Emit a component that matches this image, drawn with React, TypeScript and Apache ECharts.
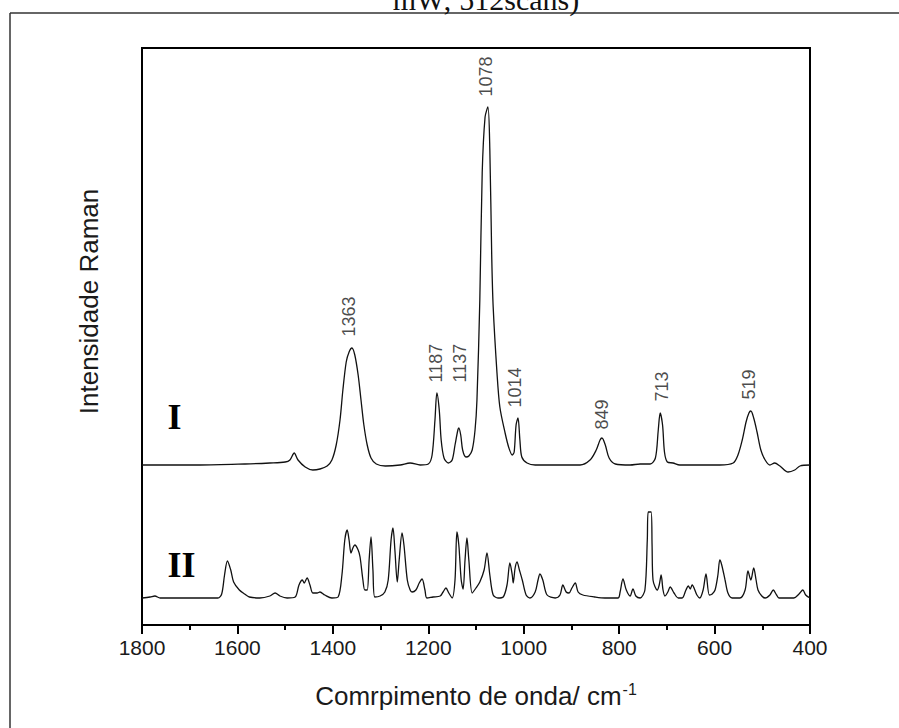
import React, { useEffect, useRef } from "react";
import * as echarts from "echarts";

// Spectrum I (upper trace): [wavenumber cm-1, intensity a.u.]
const spectrumI: [number, number][] = [
  [1800, 160], [1678, 160], [1584, 161], [1532, 162], [1500, 163], [1490, 165], [1481, 172], [1473, 165],
  [1458, 158], [1442, 155], [1427, 156], [1412, 159], [1402, 165], [1393, 180], [1385, 205], [1379, 235],
  [1372, 263], [1366, 273], [1360, 277], [1354, 270], [1347, 250], [1341, 225], [1335, 200], [1328, 180],
  [1320, 167], [1309, 161], [1290, 159], [1259, 160], [1238, 162], [1217, 160], [1200, 161], [1192, 170],
  [1186, 205], [1182, 232], [1177, 215], [1173, 185], [1167, 167], [1158, 162], [1150, 165], [1144, 180],
  [1138, 195], [1136, 197], [1132, 190], [1128, 175], [1121, 168], [1115, 169], [1108, 175], [1102, 195],
  [1098, 225], [1092, 325], [1087, 452], [1081, 508], [1075, 518], [1071, 475], [1067, 368], [1064, 318],
  [1056, 252], [1050, 218], [1039, 192], [1031, 177], [1024, 170], [1020, 173], [1016, 200], [1012, 207],
  [1008, 185], [1004, 168], [993, 162], [976, 160], [924, 160], [882, 160], [861, 165], [848, 175],
  [840, 185], [836, 187], [829, 180], [821, 167], [808, 161], [777, 160], [756, 161], [735, 161],
  [724, 167], [718, 195], [714, 212], [709, 200], [705, 173], [699, 163], [687, 162], [673, 160],
  [631, 160], [589, 160], [561, 162], [551, 170], [542, 185], [534, 203], [528, 212], [524, 214],
  [518, 207], [511, 193], [503, 175], [494, 165], [484, 160], [474, 162], [463, 159], [446, 153],
  [432, 155], [421, 159], [400, 160],
];

// Spectrum II (lower trace)
const spectrumII: [number, number][] = [
  [1800, 27], [1783, 28], [1773, 29], [1762, 27], [1700, 27], [1641, 27], [1633, 31], [1627, 50],
  [1621, 64], [1614, 55], [1608, 43], [1596, 35], [1585, 31], [1575, 28], [1553, 27], [1532, 29],
  [1521, 32], [1511, 29], [1496, 27], [1479, 28], [1471, 40], [1464, 45], [1460, 42], [1454, 47],
  [1448, 40], [1442, 32], [1433, 32], [1427, 33], [1417, 30], [1402, 27], [1389, 28], [1381, 50],
  [1375, 85], [1370, 95], [1366, 85], [1362, 72], [1358, 77], [1354, 80], [1347, 75], [1343, 68],
  [1337, 45], [1333, 35], [1328, 35], [1324, 65], [1320, 88], [1316, 55], [1312, 28], [1301, 29],
  [1291, 33], [1284, 45], [1278, 85], [1274, 97], [1270, 75], [1265, 43], [1261, 65], [1255, 92],
  [1251, 80], [1244, 45], [1238, 35], [1234, 33], [1226, 35], [1219, 42], [1213, 46], [1207, 35],
  [1203, 27], [1190, 28], [1175, 29], [1169, 33], [1163, 37], [1157, 32], [1150, 27], [1144, 45],
  [1140, 93], [1136, 80], [1131, 45], [1127, 36], [1123, 65], [1119, 87], [1115, 65], [1108, 32],
  [1100, 37], [1092, 43], [1083, 55], [1077, 72], [1071, 50], [1064, 30], [1054, 27], [1043, 28],
  [1035, 40], [1029, 62], [1024, 50], [1022, 42], [1018, 57], [1014, 63], [1009, 55], [1003, 45],
  [995, 30], [987, 27], [976, 33], [970, 45], [966, 51], [960, 45], [951, 30], [934, 27],
  [924, 30], [918, 40], [911, 33], [905, 32], [899, 37], [892, 42], [886, 33], [876, 30],
  [851, 28], [830, 27], [802, 27], [798, 33], [792, 46], [785, 35], [777, 29], [771, 36],
  [765, 29], [756, 27], [746, 35], [741, 85], [739, 113], [733, 113], [731, 80], [729, 45],
  [720, 35], [716, 40], [712, 50], [708, 35], [704, 29], [698, 33], [693, 38], [685, 32],
  [676, 27], [668, 27], [660, 35], [655, 39], [651, 36], [647, 40], [637, 30], [631, 27],
  [624, 35], [618, 51], [611, 30], [605, 31], [599, 35], [593, 50], [589, 65], [585, 60],
  [578, 45], [572, 32], [563, 27], [547, 27], [536, 35], [530, 54], [524, 45], [518, 57],
  [513, 45], [509, 35], [501, 29], [494, 27], [484, 30], [477, 35], [470, 30], [465, 27],
  [434, 27], [423, 31], [415, 35], [409, 30], [400, 27],
];

// Peak annotations (text, x position, bottom of the text in intensity units)
const peakLabels = ["1363", "1187", "1137", "1078", "1014", "849", "713", "519"];
const peakLabelX = [1366, 1182, 1133, 1077, 1018, 834, 710, 526];
const peakLabelY = [288, 242, 242, 528, 217, 195, 223, 225];

// Trace identifiers
const traceNames = ["I", "II"];
const traceNameX = [1731, 1716];
const traceNameY = [208, 60];

const xMin = 400;
const xMax = 1800;
const xInterval = 200;
const yMin = 0;
const yMax = 577;

const SANS = "'Liberation Sans', Arial, sans-serif";
const SERIF = "'Liberation Serif', 'Times New Roman', serif";

export default function App() {
  const ref = useRef<HTMLDivElement>(null);

  useEffect(() => {
    if (!ref.current) return;
    const chart = echarts.init(ref.current, undefined, { renderer: "svg" });
    chart.setOption({
      animation: false,
      backgroundColor: "#ffffff",
      graphic: [
        {
          type: "line",
          shape: { x1: 10, y1: 13, x2: 899, y2: 13 },
          style: { stroke: "#333", lineWidth: 1.5 },
        },
        {
          type: "line",
          shape: { x1: 10, y1: 13, x2: 10, y2: 728 },
          style: { stroke: "#333", lineWidth: 1.5 },
        },
        {
          type: "text",
          x: 486,
          y: 14,
          style: {
            text: "mW; 512scans)",
            font: `30px ${SERIF}`,
            fill: "#111",
            align: "center",
            verticalAlign: "bottom",
          },
        },
      ],
      grid: {
        left: 142,
        right: 89,
        top: 48,
        bottom: 103,
        show: true,
        borderColor: "#000",
        borderWidth: 2,
        containLabel: false,
      },
      xAxis: {
        type: "value",
        min: xMin,
        max: xMax,
        interval: xInterval,
        inverse: true,
        name: "{a|Comrpimento de onda/ cm}{b|-1}",
        nameLocation: "middle",
        nameGap: 56,
        nameTextStyle: {
          rich: {
            a: { fontSize: 26, fontFamily: SANS, color: "#1a1a1a", lineHeight: 30 },
            b: { fontSize: 16, fontFamily: SANS, color: "#1a1a1a", verticalAlign: "top", lineHeight: 30, padding: [0, 0, 0, 1] },
          },
        },
        axisLine: { show: true, onZero: false, lineStyle: { color: "#000", width: 2 } },
        axisTick: { show: true, inside: false, length: 9, lineStyle: { color: "#000", width: 2 } },
        minorTick: { show: true, splitNumber: 2, length: 5, lineStyle: { color: "#000", width: 2 } },
        axisLabel: {
          fontSize: 21,
          fontFamily: SANS,
          color: "#1a1a1a",
          margin: 12,
          formatter: (v: number) => String(v),
        },
        splitLine: { show: false },
        minorSplitLine: { show: false },
      },
      yAxis: {
        type: "value",
        min: yMin,
        max: yMax,
        name: "Intensidade Raman",
        nameLocation: "middle",
        nameGap: 40,
        nameTextStyle: { fontSize: 26, fontFamily: SANS, color: "#1a1a1a", padding: [0, 0, 0, 70] },
        axisLine: { show: true, lineStyle: { color: "#000", width: 2 } },
        axisTick: { show: false },
        axisLabel: { show: false },
        splitLine: { show: false },
      },
      series: [
        {
          name: "I",
          type: "line",
          data: spectrumI,
          showSymbol: false,
          symbol: "none",
          smooth: 0.3,
          lineStyle: { color: "#111", width: 1.3 },
        },
        {
          name: "II",
          type: "line",
          data: spectrumII,
          showSymbol: false,
          symbol: "none",
          smooth: 0.3,
          lineStyle: { color: "#111", width: 1.3 },
        },
        {
          name: "peaks",
          type: "scatter",
          data: peakLabels.map((t, i) => [peakLabelX[i], peakLabelY[i], t]),
          symbolSize: 1,
          itemStyle: { color: "rgba(0,0,0,0)" },
          label: {
            show: true,
            position: [0, 0],
            rotate: 90,
            align: "left",
            verticalAlign: "middle",
            fontSize: 18,
            fontFamily: SANS,
            color: "#1a1a1a",
            textBorderWidth: 0,
            textBorderColor: "transparent",
            formatter: (p: any) => p.value[2],
          },
          silent: true,
        },
        {
          name: "traces",
          type: "scatter",
          data: traceNames.map((t, i) => [traceNameX[i], traceNameY[i], t]),
          symbolSize: 1,
          itemStyle: { color: "rgba(0,0,0,0)" },
          label: {
            show: true,
            position: [0, 0],
            align: "center",
            verticalAlign: "middle",
            fontSize: 36,
            fontWeight: "bold",
            fontFamily: SERIF,
            color: "#000000",
            opacity: 1,
            textBorderWidth: 0,
            textBorderColor: "transparent",
            formatter: (p: any) => p.value[2],
          },
          silent: true,
        },
      ],
    });
    return () => chart.dispose();
  }, []);

  return (
    <div
      ref={ref}
      style={{ position: "fixed", left: 0, top: 0, width: 899, height: 728, background: "#fff" }}
    />
  );
}
